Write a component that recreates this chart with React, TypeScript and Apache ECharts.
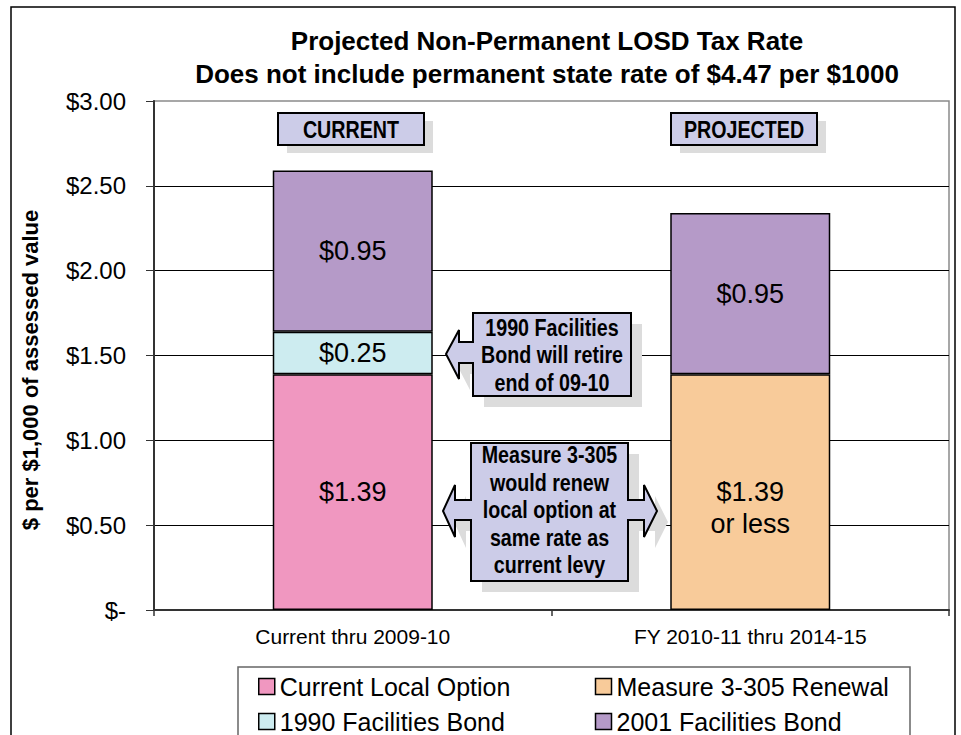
import React, { useEffect, useRef } from "react";
import * as echarts from "echarts";

const categories = ["Current thru 2009-10", "FY 2010-11 thru 2014-15"];
const localOption: (number | null)[] = [1.39, null];
const measureRenewal: (number | null)[] = [null, 1.39];
const bond1990: (number | null)[] = [0.25, null];
const bond2001: (number | null)[] = [0.95, 0.95];
const seriesNames = ["Current Local Option", "Measure 3-305 Renewal", "1990 Facilities Bond", "2001 Facilities Bond"];
const yMin = 0;
const yMax = 3;
const yInterval = 0.5;
const titleLines = ["Projected Non-Permanent LOSD Tax Rate", "Does not include permanent state rate of $4.47 per $1000"];
const yAxisTitle = "$ per $1,000 of assessed value";
const headerLabels = ["CURRENT", "PROJECTED"];
const callout1Lines = ["1990 Facilities", "Bond will retire", "end of 09-10"];
const callout2Lines = ["Measure 3-305", "would renew", "local option at", "same rate as", "current levy"];
const measureSuffix = "or less";

const FONT = "'Liberation Sans', Arial, sans-serif";
const LAV = "#CCCCE8";
const SHADOW = "#DCDCDC";
const NARROW_SCALE = 0.82;

function shift(pts: number[][], d: number) {
  return pts.map(([x, y]) => [x + d, y + d]);
}

export default function App() {
  const ref = useRef<HTMLDivElement>(null);
  useEffect(() => {
    if (!ref.current) return;
    const chart = echarts.init(ref.current, undefined, { renderer: "svg" });
    const barBase = {
      type: "bar" as const,
      stack: "total",
      barWidth: 160,
      itemStyle: { borderColor: "#000", borderWidth: 1.5 },
      label: {
        show: true,
        position: "inside" as const,
        color: "#000",
        fontSize: 27,
        fontFamily: FONT,
        formatter: (p: any) => "$" + Number(p.value).toFixed(2),
      },
    };

    const callout1 = [
      [473, 313], [631, 313], [631, 396], [473, 396], [473, 363], [459, 363], [459, 379],
      [446, 354], [459, 330], [459, 342], [473, 342],
    ];
    const callout2 = [
      [471, 443], [628, 443], [628, 500], [644, 500], [644, 485], [657, 511], [644, 537], [644, 520],
      [628, 520], [628, 581], [471, 581], [471, 520], [455, 520], [455, 537], [443, 511], [455, 485],
      [455, 500], [471, 500],
    ];

    const narrowText = (x: number, y: number, t: string, lineHeight = 24) => ({
      type: "text",
      z: 12,
      x,
      y,
      scaleX: NARROW_SCALE,
      style: {
        fontSize: 24,
        fontWeight: "bold",
        fontFamily: FONT,
        fill: "#000",
        textAlign: "center",
        textVerticalAlign: "middle",
        lineHeight,
        text: t,
      },
    });

    const headerBox = (x: number, text: string) => [
      { type: "rect", z: 10, shape: { x: x + 9, y: 121, width: 146, height: 32 }, style: { fill: SHADOW } },
      { type: "rect", z: 11, shape: { x, y: 113, width: 146, height: 32 }, style: { fill: LAV, stroke: "#000", lineWidth: 2 } },
      narrowText(x + 73, 129.5, text),
    ];

    const legendCommon = {
      orient: "horizontal" as const,
      left: 258,
      padding: 0,
      icon: "rect",
      itemWidth: 16,
      itemHeight: 16,
      itemGap: 15,
      itemStyle: { borderColor: "#000", borderWidth: 1.5 },
      textStyle: { fontSize: 25, fontFamily: FONT, color: "#000", lineHeight: 22, width: 300 },
    };

    chart.setOption({
      animation: false,
      backgroundColor: "#fff",
      title: {
        text: titleLines.join("\n"),
        left: 547,
        top: 24,
        padding: 0,
        textAlign: "center",
        textStyle: { fontSize: 26, fontWeight: "bold", fontFamily: FONT, color: "#000", lineHeight: 33 },
      },
      grid: {
        left: 154,
        top: 101,
        right: 12,
        bottom: 125,
        show: true,
        borderColor: "#8a8a8a",
        borderWidth: 1.5,
        backgroundColor: "transparent",
      },
      xAxis: {
        type: "category",
        data: categories,
        axisLine: { lineStyle: { color: "#333", width: 2 } },
        axisTick: { show: true, length: 6, lineStyle: { color: "#333", width: 1.5 } },
        axisLabel: { color: "#000", fontSize: 21, fontFamily: FONT, margin: 16 },
      },
      yAxis: {
        type: "value",
        min: yMin,
        max: yMax,
        interval: yInterval,
        axisLine: { show: true, lineStyle: { color: "#333", width: 2 } },
        axisTick: { show: true, length: 8, lineStyle: { color: "#333", width: 1 } },
        axisLabel: {
          color: "#000",
          fontSize: 24,
          fontFamily: FONT,
          margin: 28,
          formatter: (v: number) => (v === 0 ? "$-" : "$" + v.toFixed(2)),
        },
        splitLine: { show: true, showMaxLine: false, lineStyle: { color: "#000", width: 1 } },
      },
      legend: [
        { ...legendCommon, data: [seriesNames[0], seriesNames[1]], top: 674 },
        { ...legendCommon, data: [seriesNames[2], seriesNames[3]], top: 709 },
      ],
      series: [
        { ...barBase, name: seriesNames[0], data: localOption, itemStyle: { ...barBase.itemStyle, color: "#F097C0" } },
        {
          ...barBase,
          name: seriesNames[1],
          data: measureRenewal,
          itemStyle: { ...barBase.itemStyle, color: "#F8CB9A" },
          label: {
            ...barBase.label,
            lineHeight: 32,
            offset: [0, 16],
            formatter: (p: any) => "$" + Number(p.value).toFixed(2) + "\n" + measureSuffix,
          },
        },
        { ...barBase, name: seriesNames[2], data: bond1990, itemStyle: { ...barBase.itemStyle, color: "#CDECF0" } },
        { ...barBase, name: seriesNames[3], data: bond2001, itemStyle: { ...barBase.itemStyle, color: "#B59AC8" } },
      ],
      graphic: [
        { type: "rect", z: 1, shape: { x: 11, y: 7, width: 944, height: 800 }, style: { fill: "none", stroke: "#000", lineWidth: 1.5 } },
        { type: "rect", z: 1, shape: { x: 238, y: 667, width: 672, height: 120 }, style: { fill: "none", stroke: "#666", lineWidth: 1.5 } },
        {
          type: "text",
          z: 5,
          x: 30,
          y: 370,
          rotation: Math.PI / 2,
          style: { text: yAxisTitle, fontSize: 22, fontWeight: "bold", fontFamily: FONT, fill: "#000", textAlign: "center", textVerticalAlign: "middle" },
        },
        ...headerBox(278, headerLabels[0]),
        ...headerBox(671, headerLabels[1]),
        { type: "polygon", z: 10, shape: { points: shift(callout1, 11) }, style: { fill: SHADOW } },
        { type: "polygon", z: 11, shape: { points: callout1 }, style: { fill: LAV, stroke: "#000", lineWidth: 2 } },
        narrowText(552, 355, callout1Lines.join("\n"), 27.5),
        { type: "polygon", z: 10, shape: { points: shift(callout2, 11) }, style: { fill: SHADOW } },
        { type: "polygon", z: 11, shape: { points: callout2 }, style: { fill: LAV, stroke: "#000", lineWidth: 2 } },
        narrowText(549.5, 510, callout2Lines.join("\n"), 27.5),
      ],
    });
    return () => chart.dispose();
  }, []);
  return <div ref={ref} style={{ position: "fixed", left: 0, top: 0, width: 961, height: 735 }} />;
}
